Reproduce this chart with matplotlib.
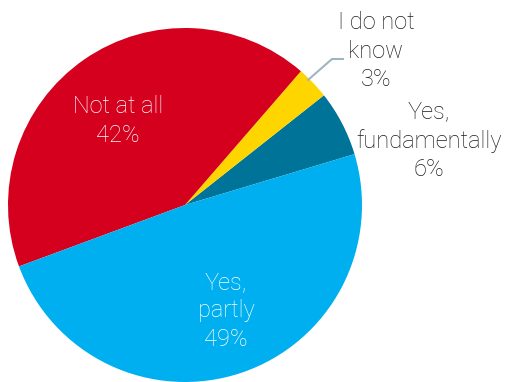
import matplotlib.pyplot as plt

labels = ["Yes,\nfundamentally", "I do not\nknow", "Not at all", "Yes,\npartly"]
values = [6, 3, 42, 49]
colors = ["#007399", "#ffd500", "#d4001e", "#00afef"]

W, H = 512, 382
fig = plt.figure(figsize=(W / 100, H / 100), dpi=100)
ax = fig.add_axes([0, 0, 1, 1])

cx, cy, r = 185, H - 205, 177
ax.pie(values, colors=colors, startangle=16.7, counterclock=True,
       center=(cx, cy), radius=r, frame=True,
       wedgeprops=dict(linewidth=0))
ax.set_xlim(0, W)
ax.set_ylim(0, H)
ax.set_aspect('equal')
ax.axis('off')

font = dict(family=['Roboto', 'DejaVu Sans'], weight='light', fontsize=17,
            ha='center', va='center', linespacing=1.3)

def txt(x, y, i, color):
    ax.text(x, H - y, f"{labels[i]}\n{values[i]}%", color=color, **font)

txt(118, 121, 2, 'white')
txt(226, 311, 3, 'white')
txt(429, 141, 0, '#1a1a1a')
txt(376, 51, 1, '#1a1a1a')

# leader line for the small slice
ax.plot([308, 332, 343], [H - 80, H - 59, H - 59], color='#9fb5c3', lw=1.5)

fig.savefig('out.png', dpi=100)
